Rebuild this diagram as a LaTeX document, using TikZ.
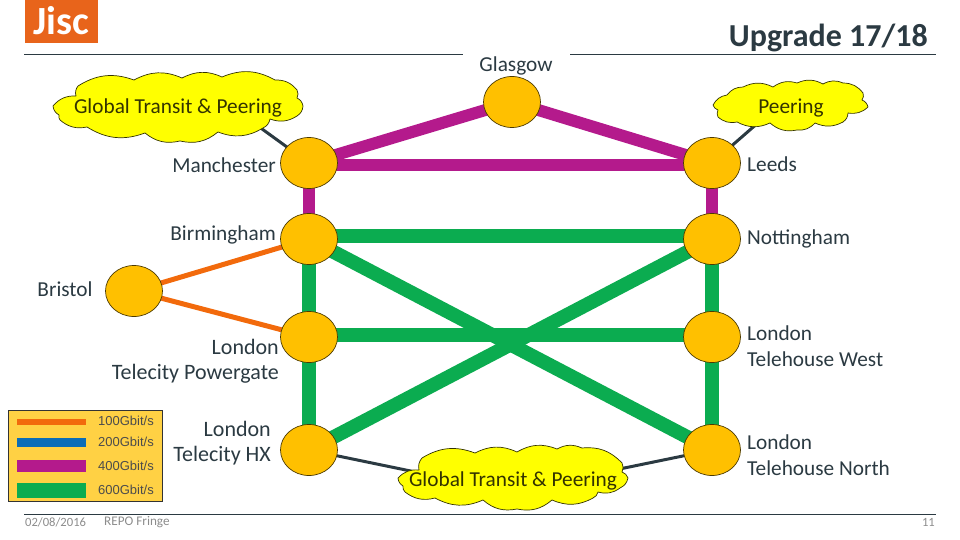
\documentclass[tikz,border=0pt]{standalone}
\usepackage{fontspec}
\setmainfont{Carlito}
\newfontfamily\legendfont{Liberation Sans}
\usetikzlibrary{shapes.geometric,backgrounds}
\definecolor{txt}{HTML}{2B3A42}
\definecolor{jisc}{HTML}{E8641B}
\definecolor{pop}{HTML}{FFC000}
\definecolor{lg}{HTML}{FFD144}
\definecolor{orangeL}{HTML}{F26A0C}
\definecolor{blueL}{HTML}{0B6DB7}
\definecolor{purpleL}{HTML}{B41A8C}
\definecolor{greenL}{HTML}{0BAC50}
\definecolor{cloudY}{HTML}{FFFF00}
\definecolor{cloudD}{HTML}{333300}
\tikzset{
  x=1pt,y=-1pt,
  pop/.style={ellipse,draw=black!70!pop,line width=.7pt,fill=pop,minimum width=57,minimum height=51,inner sep=0},
  lbl/.style={font=\fontsize{21.3}{25.4}\selectfont,text=txt,inner sep=0,align=center},
  lblw/.style={font=\fontsize{22}{25.4}\selectfont,text=txt,inner sep=0},
  cl/.style={draw=cloudD,line width=.7pt,fill=cloudY,line join=round,every to/.style={bend left=26}},
  cltext/.style={font=\fontsize{21.3}{24}\selectfont,text=cloudD,inner sep=0},
  p400/.style={draw=purpleL,line width=12pt},
  g600/.style={draw=greenL,line width=14pt},
  o100/.style={draw=orangeL,line width=5pt},
  dk/.style={draw=txt,line width=3pt},
  rule/.style={draw=txt,line width=.7pt},
  leg/.style={font=\legendfont\fontsize{13}{15}\selectfont,text=black!70,anchor=west,inner sep=0},
  foot/.style={font=\fontsize{12.6}{15}\selectfont,text=black!45,anchor=west,inner sep=0}
}
\begin{document}
\begin{tikzpicture}
\useasboundingbox (0,0) rectangle (960,540);
\node[pop] (gla) at (512,102) {};
\node[pop] (man) at (309,163) {};
\node[pop] (lee) at (712,163) {};
\node[pop] (bir) at (309,239) {};
\node[pop] (not) at (712,239) {};
\node[pop] (bri) at (134,291) {};
\node[pop] (pow) at (309,337) {};
\node[pop] (ltw) at (712,337) {};
\node[pop] (hx)  at (309,450) {};
\node[pop] (ltn) at (712,450) {};
% clouds
\path[cl] (53,106) to (76,96) to (78,86) to (134,80) to (182,78) to (222,77) to (275,80) to (297,90) to (297,98) to (303,106) to (297,116) to (270,119) to (263,128) to (218,132) to (180,141) to (145,133) to (87,127) to (60,120) to (59,115) to (53,106) -- cycle;
\path[cl] (713,105) to (727,95) to (743,87) to (773,87) to (797,83) to (823,84) to (843,83) to (863,93) to (862,100) to (868,107) to (848,113) to (843,122) to (815,123) to (797,130) to (770,123) to (737,122) to (718,117) to (718,110) to (713,105) -- cycle;
\path[cl] (398,478) to (419,470) to (422,458) to (475,453) to (517,452) to (557,449) to (582,448) to (622,463) to (622,472) to (628,478) to (620,488) to (598,492) to (593,498) to (552,500) to (517,509) to (483,500) to (435,498) to (405,492) to (403,486) to (398,478) -- cycle;
\coordinate (a1) at (240,113);
\coordinate (a2) at (775,108);
\coordinate (a3) at (430,475);
\coordinate (a4) at (600,473);
\begin{scope}[on background layer]
\draw[dk] (a1) -- (man.center);
\draw[dk] (a2) -- (lee.center);
\draw[dk] (hx.center) -- (a3);
\draw[dk] (ltn.center) -- (a4);
\draw[o100] (bri.center) -- (bir.center);
\draw[o100] (bri.center) -- (pow.center);
\draw[p400] (gla.center) -- (man.center);
\draw[p400] (gla.center) -- (lee.center);
\draw[p400] ([yshift=-2pt]man.center) -- ([yshift=-2pt]lee.center);
\draw[p400] (man.center) -- (bir.center);
\draw[p400] (lee.center) -- (not.center);
\draw[g600] ([yshift=3pt]bir.center) -- ([yshift=3pt]not.center);
\draw[g600] (bir.center) -- (pow.center);
\draw[g600] (not.center) -- (ltw.center);
\draw[g600] ([yshift=2pt]pow.center) -- ([yshift=2pt]ltw.center);
\draw[g600] (ltw.center) -- (ltn.center);
\draw[g600] (pow.center) -- (hx.center);
\draw[g600] (bir.center) -- (ltn.center);
\draw[g600] (not.center) -- (hx.center);
\end{scope}
\node[cltext] (t1) at (178,108) {Global Transit \& Peering};
\node[cltext] (t2) at (791,108) {Peering};
\node[cltext] (t3) at (513,481) {Global Transit \& Peering};
% header
\fill[jisc] (25,0) rectangle (98,43);
\node[font=\fontsize{40}{40}\selectfont\bfseries,text=white,inner sep=0] (jl) at (61,21) {Jisc};
\draw[rule] (24,54) -- (463,54);
\draw[rule] (570,54) -- (936,54);
\draw[rule] (24,514.5) -- (936,514.5);
\node[lbl,anchor=east,font=\fontsize{32}{36}\selectfont\bfseries] (title) at (928,38) {Upgrade 17/18};
% labels
\node[lbl] (lg) at (516,66) {Glasgow};
\node[lbl,anchor=east] (lm) at (276,165) {Manchester};
\node[lbl,anchor=west] (ll) at (747,164) {Leeds};
\node[lbl,anchor=east] (lb) at (276,235) {Birmingham};
\node[lbl,anchor=west] (ln) at (747,239) {Nottingham};
\node[lbl] (lr) at (65,289) {Bristol};
\node[lblw,align=right,anchor=east] (lp) at (279,361) {London\\Telecity Powergate};
\node[lbl,align=left,anchor=west] (lw) at (747,346) {London\\Telehouse West};
\node[lblw,align=right,anchor=east] (lh) at (271,443) {London\\Telecity HX};
\node[lbl,align=left,anchor=west] (lt) at (747,455) {London\\Telehouse North};
% legend
\fill[lg] (8.5,410.5) rectangle (162.5,501.5);
\draw[black!80,line width=.7pt] (8.5,410.5) rectangle (162.5,501.5);
\fill[orangeL] (17,419) rectangle (86,425);
\fill[blueL] (17,438) rectangle (86,447);
\fill[purpleL] (17,460) rectangle (86,472);
\fill[greenL] (17,483) rectangle (86,498);
\node[leg] (k1) at (98,421) {100Gbit/s};
\node[leg] (k2) at (98,442) {200Gbit/s};
\node[leg] (k3) at (98,466) {400Gbit/s};
\node[leg] (k4) at (98,490) {600Gbit/s};
% footer
\node[foot] (f1) at (25,522) {02/08/2016};
\node[foot,font=\fontsize{13.2}{15}\selectfont] (f2) at (104,522) {REPO Fringe};
\node[foot,anchor=east] (f3) at (935,522) {11};
\end{tikzpicture}
\end{document}
